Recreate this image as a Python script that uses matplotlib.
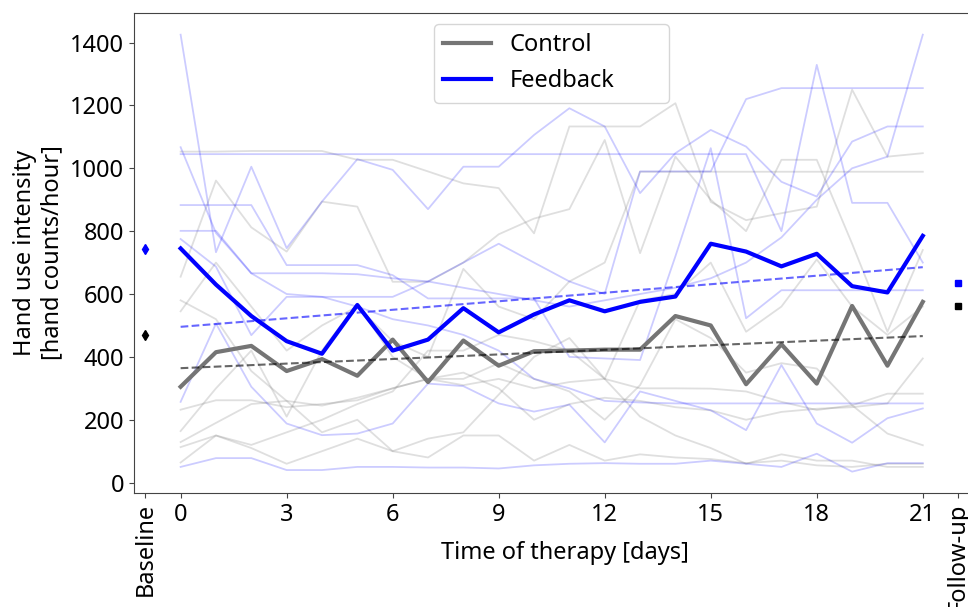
''' Hand use intensity over the therapy period: Control vs Feedback '''

import matplotlib
matplotlib.use('Agg')
import matplotlib.pyplot as plt
import numpy as np

plt.rcParams['font.family'] = ['Noto Sans', 'DejaVu Sans']

days = list(range(22))

# Individual subjects, feedback group (hand counts/hour per day)
feedback_subjects = [
    [1425, 733, 1005, 746, 894, 1029, 995, 870, 1005, 1005, 1106, 1191, 1133, 921, 1048, 1122, 1069, 957, 910, 1085, 1133, 1133],
    [1045, 1045, 1045, 1045, 1045, 1045, 1045, 1045, 1045, 1045, 1045, 1045, 1045, 1045, 1045, 1045, 1045, 800, 1329, 890, 890, 700],
    [1067, 794, 666, 666, 666, 663, 650, 640, 620, 600, 580, 560, 580, 600, 620, 650, 700, 780, 900, 1000, 1037, 1425],
    [257, 506, 305, 188, 151, 156, 188, 315, 307, 252, 226, 248, 128, 290, 260, 230, 167, 374, 188, 127, 205, 236],
    [50, 78, 78, 40, 40, 50, 50, 48, 48, 45, 55, 60, 62, 60, 60, 70, 60, 50, 92, 35, 62, 62],
    [883, 883, 883, 692, 692, 692, 660, 586, 586, 586, 586, 400, 395, 390, 720, 1064, 523, 612, 612, 612, 612, 612],
    [801, 801, 666, 600, 591, 591, 591, 640, 700, 760, 700, 640, 600, 990, 990, 990, 1220, 1255, 1255, 1255, 1255, 1255],
    [775, 687, 469, 591, 591, 560, 520, 500, 470, 420, 330, 300, 260, 255, 252, 252, 252, 252, 252, 252, 252, 252],
]

# Individual subjects, control group
control_subjects = [
    [1053, 1053, 1055, 1055, 1055, 1027, 1027, 990, 952, 937, 793, 1133, 1133, 1133, 1207, 893, 835, 857, 878, 1250, 1037, 1048],
    [655, 961, 812, 735, 894, 878, 639, 639, 700, 790, 840, 870, 1090, 730, 1037, 900, 800, 1027, 1027, 760, 480, 740],
    [545, 700, 560, 420, 500, 560, 450, 400, 680, 560, 520, 640, 700, 989, 989, 989, 989, 989, 989, 989, 989, 989],
    [232, 262, 262, 240, 250, 262, 300, 330, 310, 330, 300, 320, 330, 300, 300, 299, 290, 257, 231, 246, 283, 283],
    [164, 300, 420, 210, 420, 570, 400, 330, 330, 380, 330, 290, 200, 310, 520, 460, 350, 380, 363, 246, 156, 119],
    [129, 190, 250, 260, 245, 270, 300, 330, 350, 300, 200, 250, 270, 260, 240, 230, 200, 225, 235, 240, 252, 395],
    [113, 150, 110, 60, 100, 140, 100, 80, 150, 150, 70, 120, 70, 90, 80, 75, 62, 70, 55, 50, 60, 60],
    [64, 150, 120, 160, 200, 250, 290, 420, 420, 470, 450, 420, 330, 580, 600, 700, 480, 560, 710, 560, 470, 560],
    [580, 520, 355, 260, 160, 200, 100, 140, 160, 280, 400, 460, 330, 210, 150, 110, 60, 90, 70, 70, 50, 50],
]

# Group means
feedback_mean = [745, 630, 530, 450, 410, 565, 420, 455, 555, 478, 535, 580,
                 545, 575, 592, 760, 735, 688, 728, 625, 605, 785]
control_mean = [305, 415, 435, 355, 393, 340, 455, 320, 452, 372, 418, 420,
                423, 423, 530, 500, 313, 440, 315, 562, 372, 575]

# Baseline (before therapy) and follow-up values
baseline_feedback = 743
baseline_control = 469
followup_feedback = 634
followup_control = 561

tick_pos = [-1, 0, 3, 6, 9, 12, 15, 18, 21, 22]
tick_labels = ['Baseline', '0', '3', '6', '9', '12', '15', '18', '21', 'Follow-up']


def plot_data():
    fig = plt.figure(figsize=(9.68, 6.07), dpi=100)
    # the axes runs past the right edge of the figure, like the cropped original
    ax = fig.add_axes([0.1384, 0.1878, 0.8996, 0.7908])

    for subj in control_subjects:
        ax.plot(days, subj, color='gray', alpha=0.25, lw=1.3)
    for subj in feedback_subjects:
        ax.plot(days, subj, color='blue', alpha=0.2, lw=1.3)

    ax.plot(days, control_mean, color='#757575', lw=3, label='Control')
    ax.plot(days, feedback_mean, color='blue', lw=3, label='Feedback')

    # Linear trends of the group means
    x = np.array(days)
    for mean, col in ((control_mean, 'k'), (feedback_mean, 'b')):
        k, d = np.polyfit(x, mean, 1)
        ax.plot(x, k * x + d, '--', color=col, alpha=0.6, lw=1.5)

    ax.plot([-1], [baseline_feedback], 'd', color='blue', ms=5)
    ax.plot([-1], [baseline_control], 'd', color='black', ms=5)
    ax.plot([22], [followup_feedback], 's', color='blue', ms=5)
    ax.plot([22], [followup_control], 's', color='black', ms=5)

    ax.set_xlim(-1.32, 23.32)
    ax.set_ylim(-33, 1494)
    ax.set_xticks(tick_pos)
    ax.set_xticklabels(tick_labels)
    for lab in ax.get_xticklabels():
        if lab.get_text() in ('Baseline', 'Follow-up'):
            lab.set_rotation(90)
    ax.set_yticks([0, 200, 400, 600, 800, 1000, 1200, 1400])
    ax.tick_params(labelsize=17, color='#444444')
    for sp in ax.spines.values():
        sp.set_color('#444444')

    ax.set_xlabel('Time of therapy [days]', fontsize=17)
    ax.xaxis.set_label_coords(0.495, -0.1)
    ax.set_ylabel('Hand use intensity\n[hand counts/hour]', fontsize=17)

    ax.legend(loc='upper left', bbox_to_anchor=(0.3445, 0.5, 0.27, 0.477),
              mode='expand', borderaxespad=0, fontsize=17)

    fig.savefig('out.png', dpi=100)


if __name__ == '__main__':
    plot_data()
